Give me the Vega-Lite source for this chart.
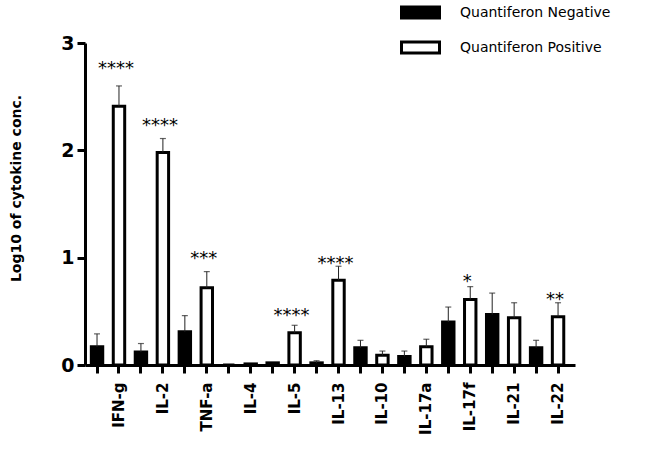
{
  "$schema": "https://vega.github.io/schema/vega-lite/v6.json",
  "autosize": "none",
  "width": 490,
  "height": 322,
  "padding": {"left": 85, "top": 43, "right": 77, "bottom": 92},
  "background": "white",
  "config": {
    "view": {"stroke": null},
    "font": "DejaVu Sans"
  },
  "datasets": {
    "bars": [
      {"key": "IFN-g|N", "group": "Quantiferon Negative", "val": 0.17, "err": 0.29},
      {"key": "IFN-g|P", "group": "Quantiferon Positive", "val": 2.41, "err": 2.60},
      {"key": "IL-2|N", "group": "Quantiferon Negative", "val": 0.12, "err": 0.20},
      {"key": "IL-2|P", "group": "Quantiferon Positive", "val": 1.98, "err": 2.11},
      {"key": "TNF-a|N", "group": "Quantiferon Negative", "val": 0.31, "err": 0.46},
      {"key": "TNF-a|P", "group": "Quantiferon Positive", "val": 0.72, "err": 0.87},
      {"key": "IL-4|N", "group": "Quantiferon Negative", "val": 0.0},
      {"key": "IL-4|P", "group": "Quantiferon Positive", "val": 0.01},
      {"key": "IL-5|N", "group": "Quantiferon Negative", "val": 0.02},
      {"key": "IL-5|P", "group": "Quantiferon Positive", "val": 0.30, "err": 0.37},
      {"key": "IL-13|N", "group": "Quantiferon Negative", "val": 0.02, "err": 0.04},
      {"key": "IL-13|P", "group": "Quantiferon Positive", "val": 0.79, "err": 0.92},
      {"key": "IL-10|N", "group": "Quantiferon Negative", "val": 0.16, "err": 0.23},
      {"key": "IL-10|P", "group": "Quantiferon Positive", "val": 0.09, "err": 0.13},
      {"key": "IL-17a|N", "group": "Quantiferon Negative", "val": 0.08, "err": 0.13},
      {"key": "IL-17a|P", "group": "Quantiferon Positive", "val": 0.17, "err": 0.24},
      {"key": "IL-17f|N", "group": "Quantiferon Negative", "val": 0.40, "err": 0.54},
      {"key": "IL-17f|P", "group": "Quantiferon Positive", "val": 0.61, "err": 0.73},
      {"key": "IL-21|N", "group": "Quantiferon Negative", "val": 0.47, "err": 0.67},
      {"key": "IL-21|P", "group": "Quantiferon Positive", "val": 0.44, "err": 0.58},
      {"key": "IL-22|N", "group": "Quantiferon Negative", "val": 0.16, "err": 0.23},
      {"key": "IL-22|P", "group": "Quantiferon Positive", "val": 0.45, "err": 0.58}
    ],
    "stars": [
      {"key": "IFN-g|P", "y": 2.80, "stars": "****"},
      {"key": "IL-2|P", "y": 2.27, "stars": "****"},
      {"key": "TNF-a|P", "y": 1.03, "stars": "***"},
      {"key": "IL-5|P", "y": 0.50, "stars": "****"},
      {"key": "IL-13|P", "y": 0.99, "stars": "****"},
      {"key": "IL-17f|P", "y": 0.82, "stars": "*"},
      {"key": "IL-22|P", "y": 0.65, "stars": "**"}
    ]
  },
  "encoding": {
    "x": {
      "field": "key",
      "type": "nominal",
      "sort": null,
      "scale": {"paddingInner": 0.48, "paddingOuter": 0.4, "align": 0.36},
      "axis": {
        "title": null,
        "labelExpr": "slice(datum.value, -2) == '|P' ? slice(datum.value, 0, -2) : ''",
        "labelAngle": 270,
        "labelFont": "DejaVu Sans",
        "labelFontWeight": "bold",
        "labelFontSize": 15,
        "labelColor": "black",
        "labelPadding": 9,
        "tickSize": 8,
        "tickWidth": 3,
        "tickColor": "black",
        "domainWidth": 3,
        "domainColor": "black",
        "labelOverlap": false
      }
    }
  },
  "layer": [
    {
      "data": {"name": "bars"},
      "mark": {"type": "bar", "stroke": "black", "strokeWidth": 3},
      "encoding": {
        "y": {
          "field": "val",
          "type": "quantitative",
          "scale": {"domain": [0, 3], "nice": false},
          "axis": {
            "values": [0, 1, 2, 3],
            "format": "d",
            "grid": false,
            "title": "Log10 of cytokine conc.",
            "titleFont": "DejaVu Sans",
            "titleFontSize": 14,
            "titleFontWeight": "bold",
            "titleColor": "black",
            "titleAngle": 270,
            "titleX": -69,
            "titleY": 145,
            "titleAlign": "center",
            "titleBaseline": "middle",
            "labelFont": "DejaVu Sans",
            "labelFontWeight": "bold",
            "labelFontSize": 19,
            "labelColor": "black",
            "labelPadding": 3,
            "tickSize": 8,
            "tickWidth": 3,
            "tickColor": "black",
            "domainWidth": 3,
            "domainColor": "black"
          }
        },
        "fill": {
          "field": "group",
          "type": "nominal",
          "scale": {"domain": ["Quantiferon Negative", "Quantiferon Positive"], "range": ["black", "white"]},
          "legend": {
            "title": null,
            "orient": "none",
            "legendX": 315,
            "legendY": -51,
            "padding": 0,
            "symbolType": "M-1,-0.29H1V0.29H-1Z",
            "symbolSize": 1444,
            "symbolStrokeColor": "black",
            "symbolStrokeWidth": 3,
            "symbolOpacity": 1,
            "labelFont": "DejaVu Sans",
            "labelFontSize": 14,
            "labelColor": "black",
            "labelOffset": 19,
            "labelLimit": 400,
            "rowPadding": 2
          }
        }
      }
    },
    {
      "data": {"name": "bars"},
      "transform": [{"filter": "isValid(datum.err)"}],
      "mark": {"type": "rule", "color": "#222222", "strokeWidth": 1},
      "encoding": {
        "y": {"field": "val", "type": "quantitative"},
        "y2": {"field": "err"}
      }
    },
    {
      "data": {"name": "bars"},
      "transform": [{"filter": "isValid(datum.err)"}],
      "mark": {"type": "tick", "color": "#222222", "thickness": 1.2, "size": 6, "orient": "horizontal"},
      "encoding": {
        "y": {"field": "err", "type": "quantitative"}
      }
    },
    {
      "data": {"name": "stars"},
      "mark": {"type": "text", "font": "DejaVu Sans", "fontSize": 18, "baseline": "alphabetic", "dy": 10, "dx": -3, "color": "black"},
      "encoding": {
        "y": {"field": "y", "type": "quantitative"},
        "text": {"field": "stars"}
      }
    }
  ]
}
